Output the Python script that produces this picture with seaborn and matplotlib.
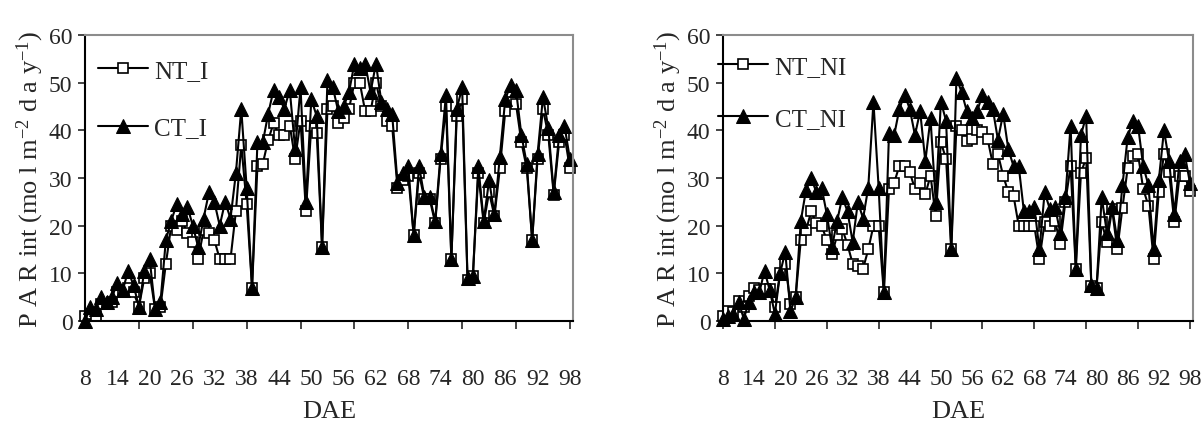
import numpy as np
import pandas as pd
import seaborn as sns
import matplotlib
matplotlib.use("Agg")
import matplotlib.pyplot as plt

days = list(range(8, 99))

nt_i = [1, 1.5, 1, 3.5, 3.5, 4, 6, 6.5, 7, 6,
        3, 9, 10, 2.5, 3, 12, 20, 19, 21, 18.5,
        16.5, 13, 19, 18.5, 17, 13, 13, 13, 23, 37,
        24.5, 7, 32.5, 33, 38, 41.5, 39, 39, 41, 34,
        42, 23, 41, 39.5, 15.5, 44.5, 45, 41.5, 42.5, 44.5,
        50, 50, 44, 44, 50, 45, 42, 41, 28, 29.5,
        30.5, 18, 31, 25.5, 25.5, 20.5, 34, 45, 13, 43,
        46.5, 8.5, 9.5, 31, 20.5, 27, 22, 32, 44, 46,
        45.5, 37.5, 32, 17, 34, 44.5, 39, 26.5, 37.5, 39,
        32]
ct_i = [0, 3, 2.5, 5, 4, 5, 8, 6.5, 10.5, 7.5,
        3, 10.5, 13, 2.5, 4, 17, 21, 24.5, 22.5, 24,
        20, 15.5, 21.5, 27, 25, 20, 25, 21.5, 31, 44.5,
        28, 7, 37.5, 37.5, 43.5, 48.5, 47, 44.5, 48.5, 36,
        49, 25, 46.5, 43, 15.5, 50.5, 49, 44, 45, 48,
        54, 53, 54, 48, 54, 46, 44.5, 43.5, 29, 31,
        32.5, 18, 32.5, 26, 26, 21, 35, 47.5, 13, 44.5,
        49, 9, 9.5, 32.5, 21, 29.5, 22.5, 34.5, 46.5, 49.5,
        48.5, 39, 33, 17, 35, 47, 40.5, 27, 39, 41,
        34]
nt_ni = [1, 2, 1.8, 4.3, 3, 5.3, 7, 6.5, 6.7, 6.7,
         2.9, 10, 12, 3.6, 5, 17, 19, 23, 20.5, 20,
         17, 14, 18, 19.3, 16, 12, 11.6, 11, 15, 20,
         20, 6, 27.7, 29, 32.6, 32.6, 31.2, 27.7, 29, 26.6,
         30.5, 22, 37.5, 34, 15, 41, 40, 37.8, 38.2, 40,
         39.6, 38.2, 33, 35, 30.5, 27, 26.3, 20, 20, 20,
         20, 13, 20.7, 20, 21, 16.2, 25, 32.5, 11, 31,
         34.3, 7.4, 7, 20.7, 16.5, 23.5, 15, 23.8, 32, 34.7,
         35, 27.7, 24.2, 13, 27, 35, 31.2, 20.7, 30.5, 30.5,
         27.3]
ct_ni = [0.5, 1, 1.5, 4, 0.5, 4, 6, 6, 10.5, 6.5,
         1.5, 10, 14.5, 2, 5, 21, 27.5, 30, 27, 28,
         22.5, 15.5, 21, 26, 23, 16.5, 25, 21.5, 28, 46,
         28, 6, 39.5, 39, 44.5, 47.5, 44.5, 39, 44, 33.5,
         42.5, 25, 46, 42, 15, 51, 48, 44, 42.5, 44,
         47.5, 46, 44.5, 38, 43.5, 36, 32.5, 32.5, 23, 23,
         24, 15, 27, 23.5, 24, 18.5, 26, 41, 11, 39,
         43, 7.5, 7, 26, 18.5, 24, 17, 28.5, 38.5, 42,
         41, 32.5, 28.5, 15, 29.5, 40, 33.5, 22.5, 33.5, 35,
         29]

tick_days = list(range(8, 99, 10))
label_days = list(range(8, 99, 6))

sns.set_style("white")
plt.rcParams['font.family'] = ['Liberation Serif', 'DejaVu Serif']
plt.rcParams['mathtext.fontset'] = 'custom'
plt.rcParams['mathtext.rm'] = 'Liberation Serif'
plt.rcParams['mathtext.it'] = 'Liberation Serif:italic'

fig = plt.figure(figsize=(12.03, 4.27), dpi=100)
ax1 = fig.add_axes([0.0707, 0.2459, 0.4057, 0.6698])
ax2 = fig.add_axes([0.601, 0.2459, 0.3907, 0.6698])

# axes, series, labels, legend anchor, legend row spacing
panels = [
    (ax1, nt_i, ct_i, 'NT_I', 'CT_I', (0.027, 0.915), 1.4),
    (ax2, nt_ni, ct_ni, 'NT_NI', 'CT_NI', (-0.01, 0.93), 1.2),
]

for ax, nt, ct, lab_nt, lab_ct, anchor, lspace in panels:
    df = pd.DataFrame({'DAE': days, 'NT': nt, 'CT': ct})
    sns.lineplot(data=df, x='DAE', y='NT', ax=ax, color='black', lw=1.5,
                 marker='s', markersize=7.5, markerfacecolor='white',
                 markeredgecolor='black', markeredgewidth=1.2,
                 label=lab_nt, clip_on=False)
    sns.lineplot(data=df, x='DAE', y='CT', ax=ax, color='black', lw=1.5,
                 marker='^', markersize=10, markerfacecolor='black',
                 markeredgecolor='black', label=lab_ct, clip_on=False)

    ax.set_xlim(8, 98.6)
    ax.set_ylim(0, 60)
    ax.set_yticks(range(0, 61, 10))
    ax.tick_params(axis='y', labelsize=17, length=5, width=1.2,
                   direction='out', left=True, pad=4)

    # tick marks every 10 days, labels every 6 days
    ax.xaxis.remove_overlapping_locs = False
    ax.set_xticks(tick_days)
    ax.set_xticklabels([])
    ax.set_xticks(label_days, minor=True)
    ax.set_xticklabels([str(d) for d in label_days], minor=True)
    ax.tick_params(axis='x', which='major', length=6, width=1.2,
                   direction='out', bottom=True)
    ax.tick_params(axis='x', which='minor', length=0, labelsize=17, pad=34)

    for side in ['left', 'bottom']:
        ax.spines[side].set_color('black')
        ax.spines[side].set_linewidth(1.5)
    for side in ['top', 'right']:
        ax.spines[side].set_color('#8c8c8c')
        ax.spines[side].set_linewidth(1.5)

    ax.set_xlabel('DAE', fontsize=19, labelpad=8)
    ax.set_ylabel('P A R int (mo l m$^{-2}$ d a y$^{-1}$)', fontsize=19, labelpad=2)

    ax.legend(loc='upper left', bbox_to_anchor=anchor, frameon=False,
              fontsize=18, handlelength=2.0, handletextpad=0.25,
              labelspacing=lspace, borderpad=0, borderaxespad=0)

fig.savefig('out.png', dpi=100)
